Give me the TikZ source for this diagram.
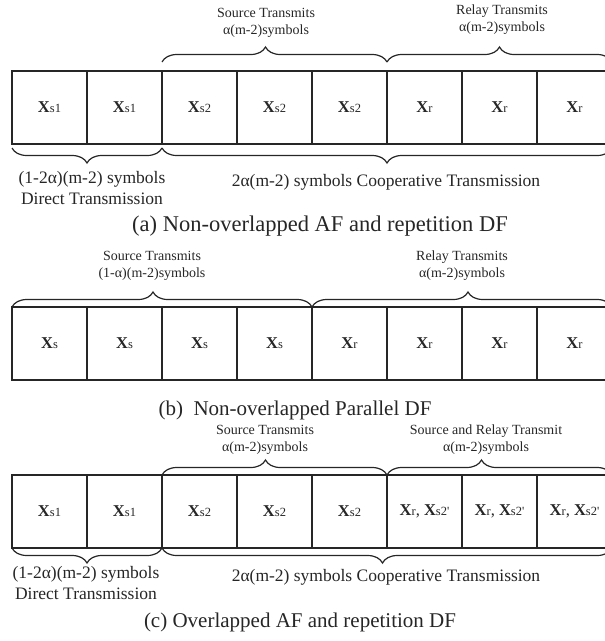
\documentclass[tikz,border=0pt]{standalone}
\usepackage{fontspec}
\setmainfont{Liberation Serif}
\usetikzlibrary{positioning,decorations.pathreplacing}

\tikzstyle{cell} = [draw=black!85, line width=1.2pt, minimum width=75pt, minimum height=73pt, inner sep=0pt, outer sep=0pt, text=black!85, font=\fontsize{16.5}{19}\selectfont]
\tikzstyle{note} = [align=center, text=black!85, font=\fontsize{14}{17}\selectfont]
\tikzstyle{desc} = [align=center, text=black!85, font=\fontsize{17.5}{21}\selectfont]
\tikzstyle{title} = [text=black!85, font=\fontsize{21}{25}\selectfont]
\tikzstyle{brc} = [decorate, draw=black!85, line width=1.2pt, decoration={brace, amplitude=15pt}]

\newcommand{\xsym}[1]{\textbf{X}{\fontsize{12.5}{15}\selectfont #1}}

\begin{document}
\begin{tikzpicture}[x=1pt, y=-1pt]
\useasboundingbox (0,0) rectangle (605,641);
\clip (0,0) rectangle (605,641);
%begin row a
\node[cell, anchor=north west] (a1) at (12,71) {\xsym{s1}};
\node[cell, right=0pt of a1] (a2) {\xsym{s1}};
\node[cell, right=0pt of a2] (a3) {\xsym{s2}};
\node[cell, right=0pt of a3] (a4) {\xsym{s2}};
\node[cell, right=0pt of a4] (a5) {\xsym{s2}};
\node[cell, right=0pt of a5] (a6) {\xsym{r}};
\node[cell, right=0pt of a6] (a7) {\xsym{r}};
\node[cell, right=0pt of a7] (a8) {\xsym{r}};
%braces row a
\draw[brc, decoration={aspect=0.46}] ([yshift=9pt]a3.north west) -- ([yshift=9pt]a6.north west);
\draw[brc, decoration={aspect=0.5}] ([yshift=9pt]a6.north west) -- ([yshift=9pt]a8.north east);
\draw[brc, decoration={mirror, aspect=0.5}] ([yshift=-4pt]a1.south west) -- ([yshift=-4pt]a3.south west);
\draw[brc, decoration={mirror, aspect=0.5}] ([yshift=-4pt]a3.south west) -- ([yshift=-4pt]a8.south east);
%labels row a
\node[note] (srca) at (266,23) {Source Transmits\\α(m-2)symbols};
\node[note] (rlya) at (502,20) {Relay Transmits\\α(m-2)symbols};
\node[desc] (dira) at (92,188) {(1-2α)(m-2) symbols\\Direct Transmission};
\node[desc] (coopa) at (386,182) {2α(m-2) symbols Cooperative Transmission};
\node[title, font=\fontsize{22.5}{27}\selectfont] (capa) at (320,226) {(a) Non-overlapped AF and repetition DF};
%end row a
%begin row b
\node[cell, anchor=north west] (b1) at (12,307) {\xsym{s}};
\node[cell, right=0pt of b1] (b2) {\xsym{s}};
\node[cell, right=0pt of b2] (b3) {\xsym{s}};
\node[cell, right=0pt of b3] (b4) {\xsym{s}};
\node[cell, right=0pt of b4] (b5) {\xsym{r}};
\node[cell, right=0pt of b5] (b6) {\xsym{r}};
\node[cell, right=0pt of b6] (b7) {\xsym{r}};
\node[cell, right=0pt of b7] (b8) {\xsym{r}};
%braces row b
\draw[brc, decoration={aspect=0.47}] (b1.north west) -- (b5.north west);
\draw[brc, decoration={aspect=0.52}] (b5.north west) -- (b8.north east);
%labels row b
\node[note] (srcb) at (152,266) {Source Transmits\\(1-α)(m-2)symbols};
\node[note] (rlyb) at (462,266) {Relay Transmits\\α(m-2)symbols};
\node[title] (capb) at (295,410) {(b)~ Non-overlapped Parallel DF};
%end row b
%begin row c
\node[cell, anchor=north west] (c1) at (12,475) {\xsym{s1}};
\node[cell, right=0pt of c1] (c2) {\xsym{s1}};
\node[cell, right=0pt of c2] (c3) {\xsym{s2}};
\node[cell, right=0pt of c3] (c4) {\xsym{s2}};
\node[cell, right=0pt of c4] (c5) {\xsym{s2}};
\node[cell, right=0pt of c5] (c6) {\xsym{r}, \xsym{s2\textquotesingle}};
\node[cell, right=0pt of c6] (c7) {\xsym{r}, \xsym{s2\textquotesingle}};
\node[cell, right=0pt of c7] (c8) {\xsym{r}, \xsym{s2\textquotesingle}};
%braces row c
\draw[brc, decoration={aspect=0.46}] (c3.north west) -- (c6.north west);
\draw[brc, decoration={aspect=0.42}] (c6.north west) -- (c8.north east);
\draw[brc, decoration={mirror, aspect=0.5}] (c1.south west) -- (c3.south west);
\draw[brc, decoration={mirror, aspect=0.49}] (c3.south west) -- (c8.south east);
%labels row c
\node[note] (srcc) at (265,440) {Source Transmits\\α(m-2)symbols};
\node[note] (rlyc) at (486,440) {Source and Relay Transmit\\α(m-2)symbols};
\node[desc] (dirc) at (86,583) {(1-2α)(m-2) symbols\\Direct Transmission};
\node[desc] (coopc) at (386,577) {2α(m-2) symbols Cooperative Transmission};
\node[title] (capc) at (300,622) {(c) Overlapped AF and repetition DF};
%end row c
\end{tikzpicture}
\end{document}
